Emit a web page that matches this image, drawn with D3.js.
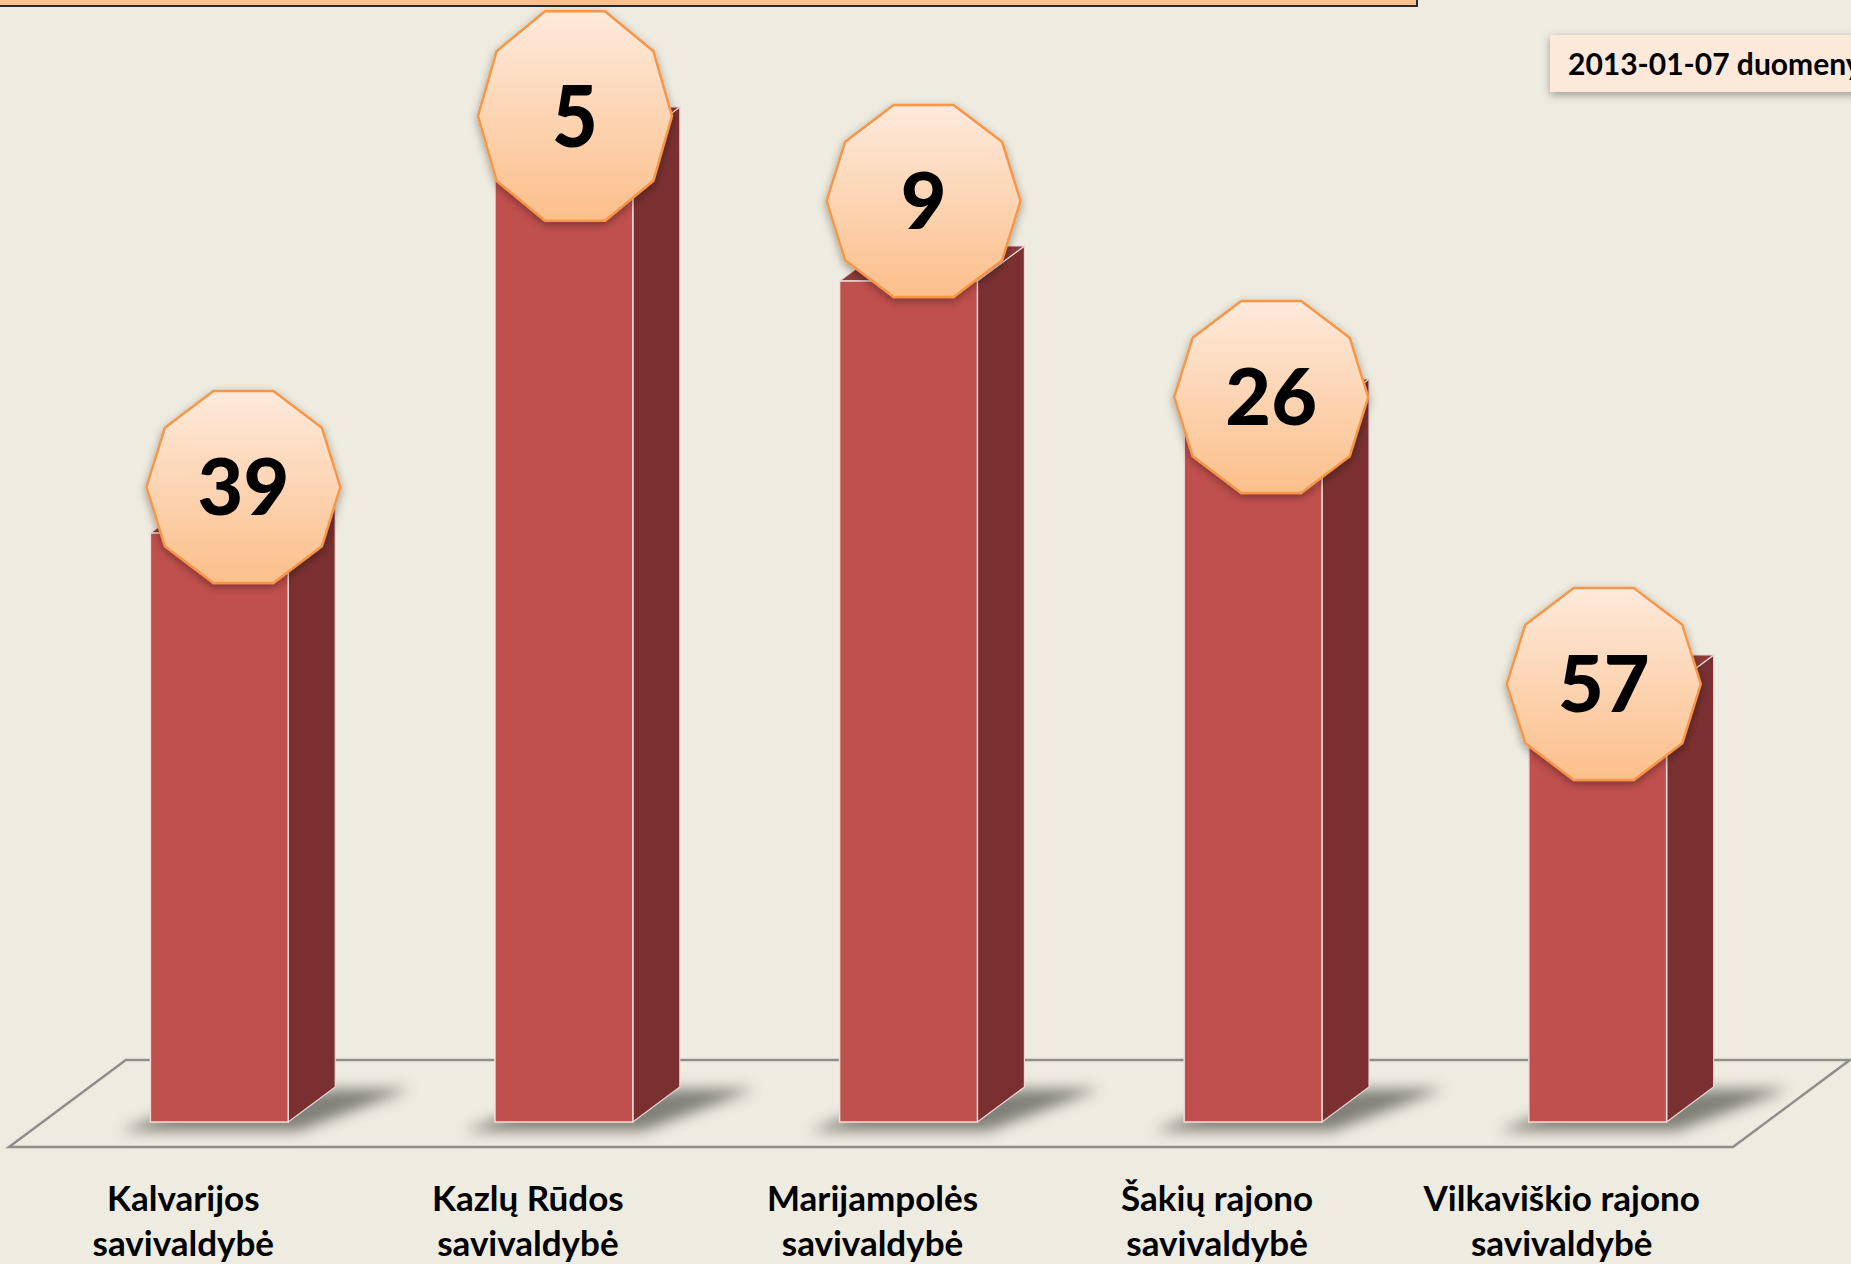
<!DOCTYPE html>
<html>
<head>
<meta charset="utf-8">
<script src="https://cdn.jsdelivr.net/npm/d3@7"></script>
<style>
  html, body { margin: 0; padding: 0; background: #eeebe0; overflow: hidden; }
  svg { display: block; }
</style>
</head>
<body>
<div id="chart"></div>
<script>
// data
var categories = [
  ["Kalvarijos", "savivaldybė"],
  ["Kazlų Rūdos", "savivaldybė"],
  ["Marijampolės", "savivaldybė"],
  ["Šakių rajono", "savivaldybė"],
  ["Vilkaviškio rajono", "savivaldybė"]
];
var values = [58.9, 98.0, 84.1, 70.8, 43.2];   // bar heights (no axis shown, relative units)
var ranks = [39, 5, 9, 26, 57];                // numbers in the badges
var dateLabel = "2013-01-07 duomenys";

// layout
var width = 1851, height = 1264;
var depthX = 47, depthY = 35;          // oblique depth of the bars
var badgeLift = [46, 26, 80, 17, 6];   // how far each badge sits above its bar top
var badgeShift = [93, 80, 84, 87, 75]; // badge centre from bar's left edge
var badgeStretch = [1, 1.09, 1, 1, 1]; // second badge is drawn a bit taller

var svg = d3.select("#chart").append("svg")
  .attr("width", width).attr("height", height);

var defs = svg.append("defs");
var grad = defs.append("linearGradient").attr("id", "badgeGrad")
  .attr("x1", 0).attr("y1", 0).attr("x2", 0).attr("y2", 1);
grad.append("stop").attr("offset", "0%").attr("stop-color", "#feeadc");
grad.append("stop").attr("offset", "100%").attr("stop-color", "#fbbf8a");

var blur = defs.append("filter").attr("id", "floorShadow")
  .attr("x", "-30%").attr("y", "-100%").attr("width", "160%").attr("height", "300%");
blur.append("feGaussianBlur").attr("stdDeviation", 7);

var drop = defs.append("filter").attr("id", "dropShadow")
  .attr("x", "-20%").attr("y", "-20%").attr("width", "140%").attr("height", "150%");
drop.append("feDropShadow").attr("dx", 0).attr("dy", 3).attr("stdDeviation", 4)
  .attr("flood-color", "#000").attr("flood-opacity", 0.35);

// background
svg.append("rect").attr("width", width).attr("height", height).attr("fill", "#eeebe0");

// top banner (cut off)
svg.append("rect").attr("x", -5).attr("y", -20).attr("width", 1422).attr("height", 26)
  .attr("fill", "#fac090").attr("stroke", "#2b2b2b").attr("stroke-width", 2);

// scales
var x = d3.scaleBand()
  .domain(d3.range(categories.length))
  .range([47, 1770])
  .paddingInner(0.6)
  .paddingOuter(0.3);

var y = d3.scaleLinear()
  .domain([0, 100])
  .range([1122, 122]);

// floor
var floorY0 = 1147, floorY1 = 1060;
var floorDX = (floorY0 - floorY1) * depthX / depthY;
var fl = 9, fr = 1733;
svg.append("polygon")
  .attr("points", [[fl, floorY0], [fl + floorDX, floorY1], [fr + floorDX, floorY1], [fr, floorY0]].join(" "))
  .attr("fill", "none").attr("stroke", "#8e8e8a").attr("stroke-width", 2.5);

var bars = svg.append("g").selectAll("g").data(values).enter().append("g");

// shadow on the floor
bars.append("polygon")
  .attr("points", function (d, i) {
    var x0 = x(i), x1 = x(i) + x.bandwidth(), yb = y(0);
    return [[x0 - 30, yb + 9], [x1 + 10, yb + 9], [x1 + depthX + 75, yb - depthY + 2],
            [x1 + depthX, yb - depthY + 2], [x0 + 20, yb - 10]].join(" ");
  })
  .attr("fill", "#6d6d66").attr("opacity", 0.85)
  .attr("filter", "url(#floorShadow)");

// side face
bars.append("polygon")
  .attr("points", function (d, i) {
    var x1 = x(i) + x.bandwidth(), yb = y(0), yt = y(d);
    return [[x1, yb], [x1 + depthX, yb - depthY], [x1 + depthX, yt - depthY], [x1, yt]].join(" ");
  })
  .attr("fill", "#7a3030").attr("stroke", "#ead6d4").attr("stroke-width", 1.2);

// top face
bars.append("polygon")
  .attr("points", function (d, i) {
    var x0 = x(i), x1 = x(i) + x.bandwidth(), yt = y(d);
    return [[x0, yt], [x0 + depthX, yt - depthY], [x1 + depthX, yt - depthY], [x1, yt]].join(" ");
  })
  .attr("fill", "#8e3a37").attr("stroke", "#ead6d4").attr("stroke-width", 1.2);

// front face
bars.append("rect")
  .attr("x", function (d, i) { return x(i); })
  .attr("y", function (d) { return y(d); })
  .attr("width", x.bandwidth())
  .attr("height", function (d) { return y(0) - y(d); })
  .attr("fill", "#c0504d").attr("stroke", "#f2dcdb").attr("stroke-width", 1.5);

// decagon badges
var R = 97, Ry = 101;
function decagon(cx, cy, s) {
  return d3.range(10).map(function (k) {
    var a = k * Math.PI / 5;
    return [cx + R * Math.cos(a), cy + Ry * s * Math.sin(a)];
  }).join(" ");
}

var badges = svg.append("g").selectAll("g").data(values).enter().append("g");
badges.append("polygon")
  .attr("points", function (d, i) {
    return decagon(x(i) + badgeShift[i], y(d) - badgeLift[i], badgeStretch[i]);
  })
  .attr("fill", "url(#badgeGrad)")
  .attr("stroke", "#f79646").attr("stroke-width", 2.5)
  .attr("stroke-linejoin", "round")
  .attr("filter", "url(#dropShadow)");

badges.append("text")
  .attr("transform", function (d, i) {
    return "translate(" + (x(i) + badgeShift[i]) + "," + (y(d) - badgeLift[i]) + ") scale(1," + badgeStretch[i] + ")";
  })
  .attr("y", 28)
  .attr("text-anchor", "middle")
  .attr("font-family", "Lato, 'Open Sans', sans-serif")
  .attr("font-weight", 900)
  .attr("font-size", 79)
  .attr("fill", "#000")
  .text(function (d, i) { return ranks[i]; });

// category labels
var labels = svg.append("g").selectAll("text").data(categories).enter().append("text")
  .attr("text-anchor", "middle")
  .attr("font-family", "Lato, 'Open Sans', sans-serif")
  .attr("font-weight", 700)
  .attr("font-size", 35)
  .attr("fill", "#000");
labels.selectAll("tspan").data(function (d, i) { return d.map(function (t) { return [t, i]; }); })
  .enter().append("tspan")
  .attr("x", function (d) { return x(d[1]) + x.bandwidth() / 2 - 36; })
  .attr("y", function (d, j) { return 1211 + j * 45; })
  .text(function (d) { return d[0]; });

// date box
svg.append("rect").attr("x", 1550).attr("y", 35).attr("width", 330).attr("height", 57)
  .attr("fill", "#fde9d9").attr("filter", "url(#dropShadow)");
svg.append("text").attr("x", 1568).attr("y", 75)
  .attr("font-family", "Lato, 'Open Sans', sans-serif")
  .attr("font-weight", 700).attr("font-size", 30).attr("fill", "#000")
  .text(dateLabel);
</script>
</body>
</html>
